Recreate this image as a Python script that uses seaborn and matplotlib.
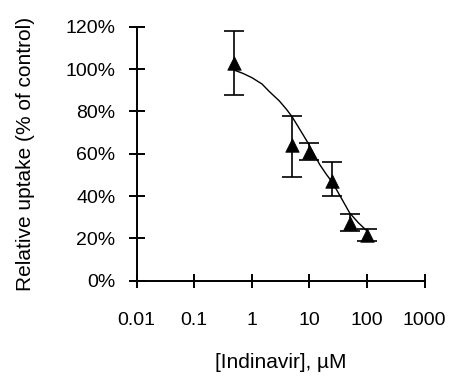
import matplotlib
matplotlib.use("Agg")
import matplotlib.pyplot as plt
import seaborn as sns
import pandas as pd
from matplotlib.ticker import FixedLocator, FixedFormatter, PercentFormatter

# Measured uptake at each indinavir concentration (µM), % of control
conc = [0.5, 5, 10, 25, 50, 100]
uptake = [103, 64, 61, 47, 27.5, 21.5]
err_upper = [118, 78, 65, 56, 31.5, 24.5]
err_lower = [88, 49, 57, 40, 23.5, 19]

# Fitted inhibition curve
fit_conc = [0.5, 0.7, 1, 1.5, 2, 3, 4, 5, 7, 10, 15, 20, 25, 35, 50, 70, 100]
fit_uptake = [99.5, 98, 96, 93, 89.5, 85, 81, 77.5, 71, 64, 55, 50, 46.5, 39.5, 32, 27.5, 23.5]

x_ticks = [0.01, 0.1, 1, 10, 100, 1000]
x_tick_labels = ["0.01", "0.1", "1", "10", "100", "1000"]
y_ticks = [0, 20, 40, 60, 80, 100, 120]

sns.set_style("white")
plt.rcParams["font.family"] = ["Liberation Sans", "DejaVu Sans"]

fig = plt.figure(figsize=(4.52, 3.83), dpi=100)
ax = fig.add_axes([0.302, 0.267, 0.6376, 0.663])

fit_df = pd.DataFrame({"conc": fit_conc, "uptake": fit_uptake})
pts_df = pd.DataFrame({"conc": conc, "uptake": uptake})

sns.lineplot(data=fit_df, x="conc", y="uptake", ax=ax, color="black", linewidth=1.0)

yerr = [[u - lo for u, lo in zip(uptake, err_lower)],
        [hi - u for u, hi in zip(uptake, err_upper)]]
ax.errorbar(conc, uptake, yerr=yerr, fmt="none", ecolor="black",
            elinewidth=1.2, capsize=7, capthick=1.2, zorder=3)

sns.scatterplot(data=pts_df, x="conc", y="uptake", ax=ax, marker="^",
                color="black", s=95, edgecolor="black", linewidth=0.5, zorder=4)

ax.set_xscale("log")
ax.set_xlim(0.01, 1000)
ax.set_ylim(0, 120)
ax.xaxis.set_major_locator(FixedLocator(x_ticks))
ax.xaxis.set_major_formatter(FixedFormatter(x_tick_labels))
ax.xaxis.set_minor_locator(FixedLocator([]))
ax.set_yticks(y_ticks)
ax.yaxis.set_major_formatter(PercentFormatter(decimals=0))

for side in ["top", "right"]:
    ax.spines[side].set_visible(False)
for side in ["left", "bottom"]:
    ax.spines[side].set_color("black")
    ax.spines[side].set_linewidth(1.4)

ax.tick_params(axis="y", which="major", left=True, direction="inout",
               length=11.5, width=1.4, colors="black", labelsize=14, pad=9.5)
ax.tick_params(axis="x", which="major", bottom=True, direction="inout",
               length=9.5, width=1.4, colors="black", labelsize=14, pad=18)
for t in ax.get_xticklines() + ax.get_yticklines():
    t.set_clip_on(False)

ax.set_xlabel("[Indinavir], µM", fontsize=15, color="black", labelpad=17)
ax.set_ylabel("Relative uptake (% of control)", fontsize=15, color="black", labelpad=22)

fig.savefig("out.png", dpi=100, facecolor="white")
